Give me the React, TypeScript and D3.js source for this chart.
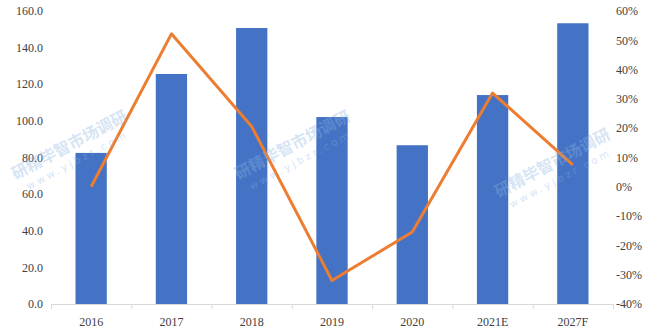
import React from "react";
import * as d3 from "d3";

const categories = ["2016", "2017", "2018", "2019", "2020", "2021E", "2027F"];
const barValues = [82.5, 125.6, 150.7, 102.1, 86.7, 114.1, 153.3];
const growthValues = [0.0, 52.2, 20.6, -32.0, -15.4, 32.0, 7.5];
const leftTicks = [0, 20, 40, 60, 80, 100, 120, 140, 160];
const rightTicks = [-40, -30, -20, -10, 0, 10, 20, 30, 40, 50, 60];
const watermarks = [
  { x: 72, y: 150 },
  { x: 295, y: 150 },
  { x: 555, y: 168 },
];

const W = 660;
const H = 336;
const left = 51;
const right = 613;
const top = 11;
const bottom = 304;
const font = "'Liberation Serif', 'Times New Roman', serif";

export default function App() {
  const x = d3.scaleBand<string>().domain(categories).range([left, right]).paddingInner(0.61).paddingOuter(0.305);
  const xb = d3.scaleBand<string>().domain(categories).range([left, right]);
  const yL = d3.scaleLinear().domain([0, 160]).range([bottom, top]);
  const yR = d3.scaleLinear().domain([-40, 60]).range([bottom, top]);
  const line = d3
    .line<number>()
    .x((_, i) => (xb(categories[i]) as number) + xb.bandwidth() / 2)
    .y((d) => yR(d));

  return (
    <svg width={W} height={H} style={{ position: "absolute", left: 0, top: 0, background: "#fff" }}>
      {barValues.map((v, i) => (
        <rect
          key={categories[i]}
          x={x(categories[i])}
          y={yL(v)}
          width={x.bandwidth()}
          height={yL(0) - yL(v)}
          fill="#4472C4"
        />
      ))}
      <line x1={left} x2={right} y1={bottom + 0.5} y2={bottom + 0.5} stroke="#D9D9D9" strokeWidth={1} />
      {categories.map((c) => (
        <line
          key={"t" + c}
          x1={(xb(c) as number) + 0.5}
          x2={(xb(c) as number) + 0.5}
          y1={bottom}
          y2={bottom + 5}
          stroke="#D9D9D9"
        />
      ))}
      <line x1={right + 0.5} x2={right + 0.5} y1={bottom} y2={bottom + 5} stroke="#D9D9D9" />
      <path d={line(growthValues) || ""} fill="none" stroke="#ED7D31" strokeWidth={3} strokeLinejoin="round" />
      {leftTicks.map((t) => (
        <text key={"l" + t} x={43} y={yL(t)} dy="0.35em" textAnchor="end" fontFamily={font} fontSize={12} fill="#404040">
          {t.toFixed(1)}
        </text>
      ))}
      {rightTicks.map((t) => (
        <text key={"r" + t} x={616} y={yR(t)} dy="0.35em" textAnchor="start" fontFamily={font} fontSize={12} fill="#404040">
          {t + "%"}
        </text>
      ))}
      {categories.map((c) => (
        <text
          key={"x" + c}
          x={(xb(c) as number) + xb.bandwidth() / 2}
          y={322}
          dy="0.35em"
          textAnchor="middle"
          fontFamily={font}
          fontSize={12}
          fill="#404040"
        >
          {c}
        </text>
      ))}
      {watermarks.map((w, i) => (
        <g key={"w" + i} transform={`translate(${w.x},${w.y}) rotate(-28)`} opacity={0.35}>
          <text x={0} y={0} textAnchor="middle" fontFamily="'Noto Sans CJK SC', sans-serif" fontSize={16} fontWeight="bold" fill="#8DB4E2">
            研精毕智市场调研
          </text>
          <text x={0} y={15} textAnchor="middle" fontFamily="'DejaVu Sans', sans-serif" fontSize={10} letterSpacing={3} fill="#8DB4E2">
            www.yjbzr.com
          </text>
        </g>
      ))}
    </svg>
  );
}
